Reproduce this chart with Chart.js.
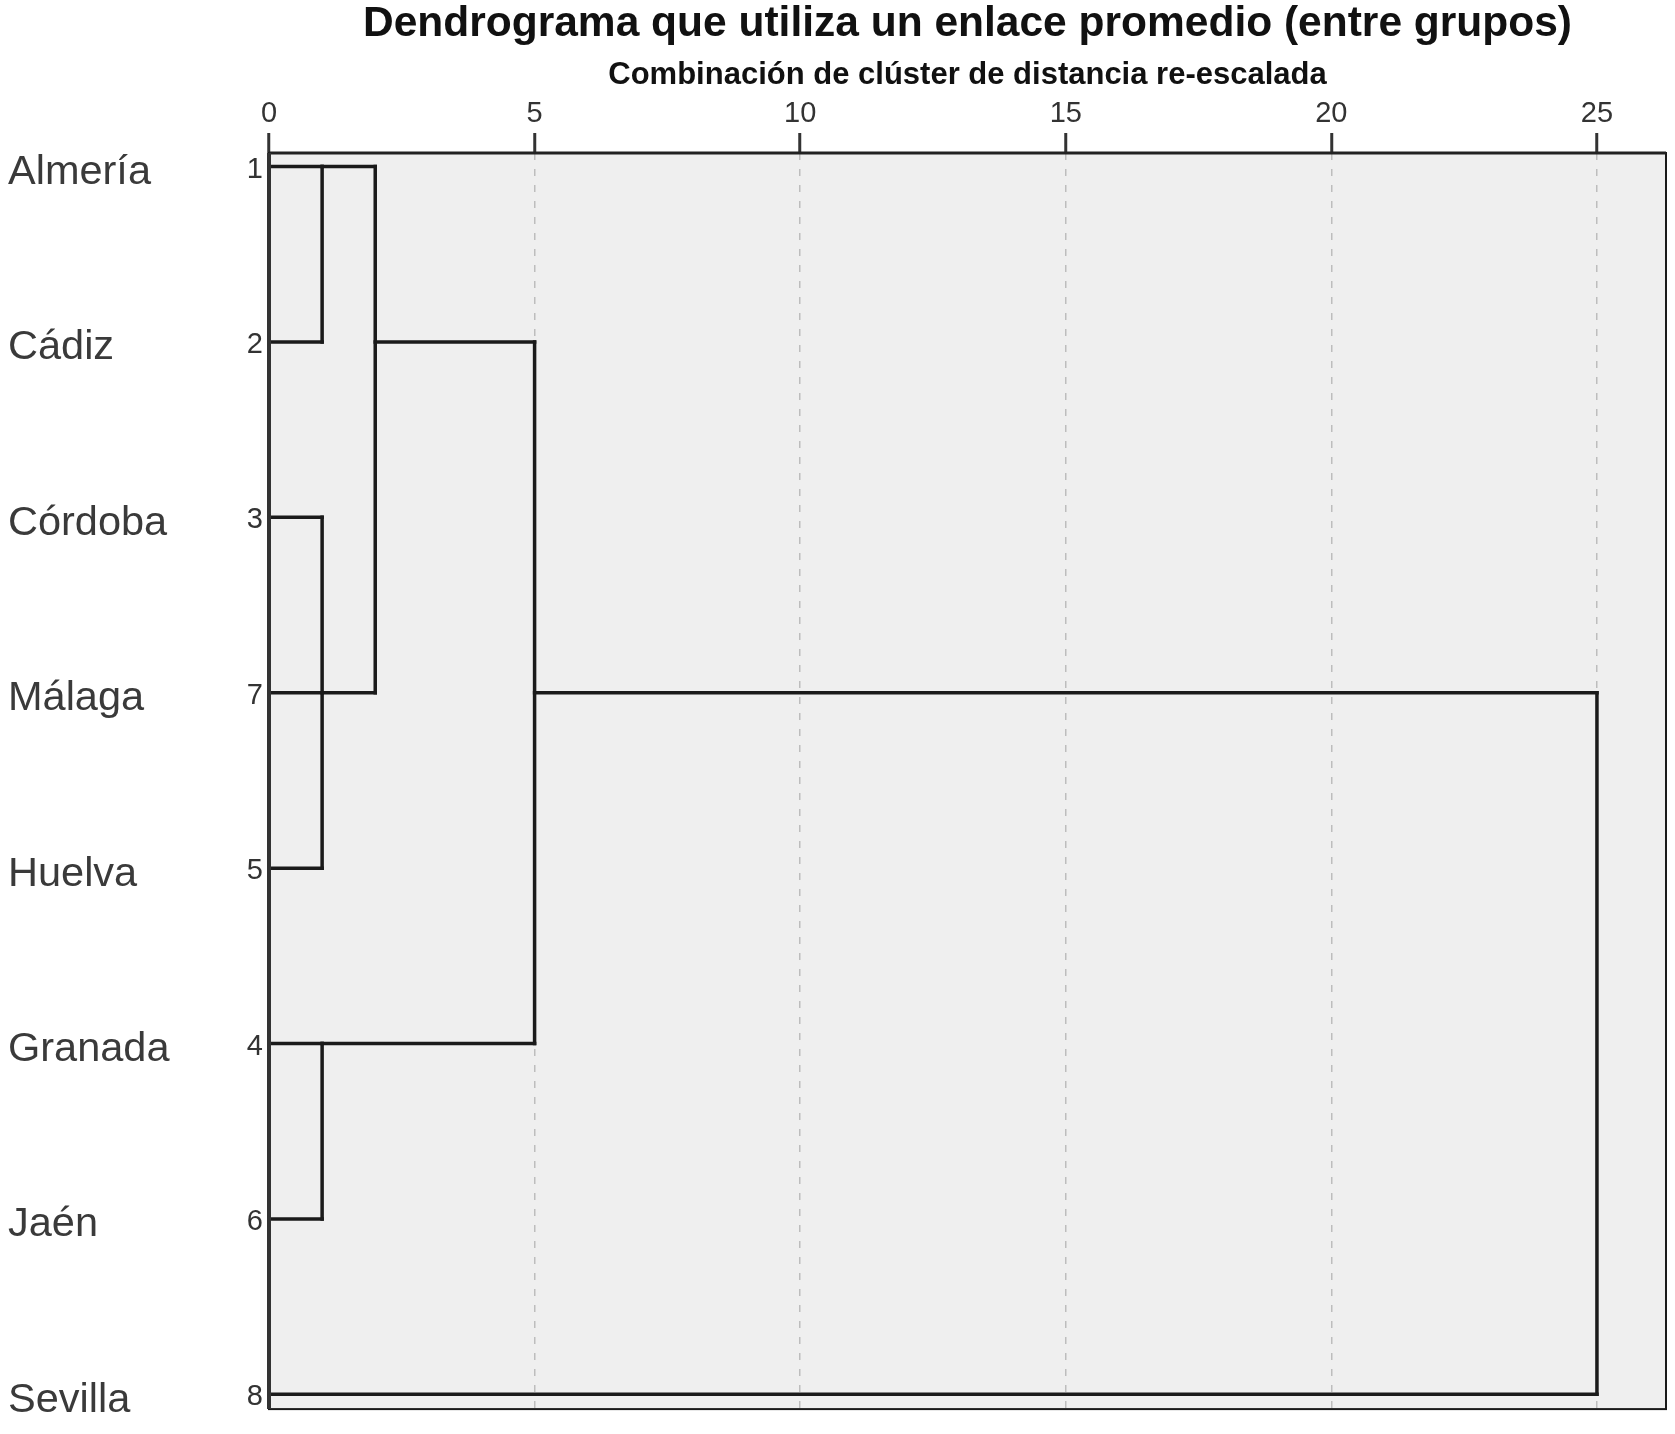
<!DOCTYPE html>
<html><head><meta charset="utf-8">
<script src="https://cdn.jsdelivr.net/npm/chart.js@4.4.1/dist/chart.umd.min.js"></script>
<style>html,body{margin:0;padding:0;background:#fff}#wrap{width:1675px;height:1434px}</style>
</head><body><div id="wrap"><canvas id="c" width="1675" height="1434"></canvas></div>
<script>
const titleText = 'Dendrograma que utiliza un enlace promedio (entre grupos)';
const subtitleText = 'Combinación de clúster de distancia re-escalada';
const leafNames = ['Almería', 'Cádiz', 'Córdoba', 'Málaga', 'Huelva', 'Granada', 'Jaén', 'Sevilla'];
const caseNumbers = ['1', '2', '3', '7', '5', '4', '6', '8'];
const xTickValues = [0, 5, 10, 15, 20, 25];
const xMax = 26.3;
// merges: rescaled distance, children (L# = leaf row, M# = earlier merge), row where merged branch continues
const mergeDistances = [1, 1, 1, 2, 5, 25];
const mergeChildren = [['L0', 'L1'], ['L2', 'L3', 'L4'], ['L5', 'L6'], ['M0', 'M1'], ['M3', 'M2'], ['M4', 'L7']];
const mergeOutRows = [0, 3, 5, 1, 3, 7];

function childInfo(id) {
  const k = +id.slice(1);
  return id[0] === 'L' ? { x: 0, row: k } : { x: mergeDistances[k], row: mergeOutRows[k] };
}
const segments = [];
mergeDistances.forEach((d, i) => {
  const ch = mergeChildren[i].map(childInfo);
  ch.forEach(c => segments.push([{ x: c.x, y: c.row }, { x: d, y: c.row }]));
  const rows = ch.map(c => c.row);
  segments.push([{ x: d, y: Math.min(...rows) }, { x: d, y: Math.max(...rows) }]);
});

const FONT = '"Liberation Sans", Arial, Helvetica, sans-serif';
const yMin = -0.077, yMax = 7.084;

const framePlugin = {
  id: 'frame',
  beforeDraw(chart) {
    const { ctx, chartArea: a } = chart;
    ctx.save();
    ctx.fillStyle = '#efefef';
    ctx.fillRect(a.left, a.top, a.right - a.left, a.bottom - a.top);
    ctx.restore();
  },
  afterDraw(chart) {
    const { ctx, chartArea: a } = chart;
    ctx.save();
    ctx.strokeStyle = '#1a1a1a';
    ctx.lineWidth = 2;
    ctx.strokeRect(a.left, a.top, a.right - a.left, a.bottom - a.top);
    ctx.lineWidth = 3;
    ctx.strokeStyle = '#222';
    ctx.beginPath(); ctx.moveTo(a.left, a.top); ctx.lineTo(a.right, a.top); ctx.stroke();
    ctx.lineWidth = 4;
    ctx.strokeStyle = '#333';
    ctx.beginPath(); ctx.moveTo(a.left, a.top); ctx.lineTo(a.left, a.bottom); ctx.stroke();
    ctx.restore();
  }
};

const rowTicks = leafNames.map((_, i) => ({ value: i }));

new Chart(document.getElementById('c'), {
  type: 'scatter',
  data: {
    datasets: segments.map(s => ({
      data: s,
      showLine: true,
      borderColor: '#1a1a1a',
      borderWidth: 3.5,
      borderCapStyle: 'square',
      pointRadius: 0,
      fill: false,
      yAxisID: 'yNum'
    }))
  },
  options: {
    responsive: false,
    animation: false,
    layout: { padding: { left: 8, right: 9, top: 0, bottom: 11 } },
    plugins: {
      legend: { display: false },
      tooltip: { enabled: false },
      title: {
        display: true, fullSize: false, text: titleText, color: '#111',
        font: { family: FONT, size: 42.5, weight: 'bold', lineHeight: 1 },
        padding: { top: 3, bottom: 0 }
      },
      subtitle: {
        display: true, fullSize: false, text: subtitleText, color: '#111',
        font: { family: FONT, size: 31, weight: 'bold', lineHeight: 1 },
        padding: { top: 14, bottom: 0 }
      }
    },
    scales: {
      x: {
        type: 'linear', position: 'top', min: 0, max: xMax,
        afterBuildTicks: sc => { sc.ticks = xTickValues.map(v => ({ value: v })); },
        afterFit: sc => { sc.height = 62.5; },
        ticks: { color: '#333', font: { family: FONT, size: 29, lineHeight: 1 }, padding: 5, maxRotation: 0 },
        grid: {
          color: ctx => (ctx.tick && ctx.tick.value === 0) ? 'rgba(0,0,0,0)' : '#bdbdbd',
          lineWidth: 1.5, drawTicks: true, tickLength: 20, tickWidth: 3, tickColor: '#333',
          tickBorderDash: []
        },
        border: { display: false, dash: [7, 9] }
      },
      yNum: {
        type: 'linear', position: 'left', min: yMin, max: yMax, reverse: true, weight: 0,
        afterBuildTicks: sc => { sc.ticks = rowTicks.map(t => ({ value: t.value })); },
        afterFit: sc => { sc.width = 54; },
        ticks: { callback: v => caseNumbers[v], color: '#333', font: { family: FONT, size: 29 }, padding: 6, crossAlign: 'near', labelOffset: 3 },
        grid: { display: false, drawTicks: false },
        border: { display: false }
      },
      yName: {
        type: 'linear', position: 'left', min: yMin, max: yMax, reverse: true, weight: 1,
        afterBuildTicks: sc => { sc.ticks = rowTicks.map(t => ({ value: t.value })); },
        afterFit: sc => { sc.width = 207; },
        ticks: { callback: v => leafNames[v], color: '#3a3a3a', font: { family: FONT, size: 41.5 }, padding: 0, crossAlign: 'far', labelOffset: 6 },
        grid: { display: false, drawTicks: false },
        border: { display: false }
      }
    }
  },
  plugins: [framePlugin]
});
</script></body></html>
